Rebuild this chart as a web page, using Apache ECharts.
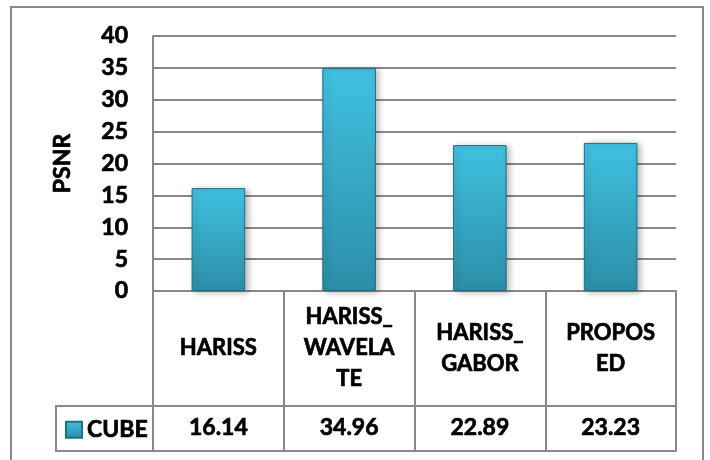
<!DOCTYPE html>
<html>
<head>
<meta charset="utf-8">
<script src="https://cdn.jsdelivr.net/npm/echarts@6/dist/echarts.min.js"></script>
<style>
  html, body { margin: 0; padding: 0; background: #fff; }
  #chart { width: 710px; height: 460px; }
</style>
</head>
<body>
<div id="chart"></div>
<script>
// PSNR per method, shown as columns with a data table underneath
const categories = ['HARISS', 'HARISS_\nWAVELA\nTE', 'HARISS_\nGABOR', 'PROPOS\nED'];
const seriesName = 'CUBE';
const psnrValues = [16.14, 34.96, 22.89, 23.23];
const yTicks = { min: 0, max: 40, step: 5 };
const yAxisTitle = 'PSNR';

const FONT = 'Lato';
const LINE = '#898989';

const chart = echarts.init(document.getElementById('chart'), null, { renderer: 'canvas' });

const barFill = new echarts.graphic.LinearGradient(0, 0, 0, 1, [
  { offset: 0, color: '#40c1e0' },
  { offset: 1, color: '#2c8ea8' }
]);

// heavy black text: bold face plus a thin outline of the same colour
const textBase = {
  fontFamily: FONT, fontWeight: 'bold', color: '#000',
  textBorderColor: '#000', textBorderWidth: 0.7
};

chart.setOption({
  animation: false,
  backgroundColor: '#fff',
  grid: { left: 153, top: 36, right: 34, bottom: 169, containLabel: false },
  legend: {
    data: [seriesName],
    left: 65, top: 418,
    padding: 0,
    icon: 'rect',
    itemWidth: 16, itemHeight: 16,
    itemGap: 6,
    textStyle: Object.assign({ fontSize: 23 }, textBase)
  },
  xAxis: [
    {
      // category header row of the table
      type: 'category',
      data: categories,
      position: 'bottom',
      axisLine: { show: true, lineStyle: { color: LINE, width: 2 } },
      axisTick: { show: true, length: 160, lineStyle: { color: LINE, width: 2 } },
      axisLabel: Object.assign({
        interval: 0, margin: 57, verticalAlign: 'middle', lineHeight: 31, fontSize: 22
      }, textBase)
    },
    {
      // value row of the table
      type: 'category',
      data: psnrValues.map(v => v.toFixed(2)),
      position: 'bottom',
      offset: 115,
      axisLine: { show: true, lineStyle: { color: LINE, width: 2 } },
      axisTick: { show: false },
      axisLabel: Object.assign({
        interval: 0, margin: 22, verticalAlign: 'middle', fontSize: 23
      }, textBase)
    },
    {
      // bottom edge of the table
      type: 'category',
      data: categories,
      position: 'bottom',
      offset: 160,
      axisLine: { show: true, lineStyle: { color: LINE, width: 2 } },
      axisTick: { show: false },
      axisLabel: { show: false }
    }
  ],
  yAxis: {
    type: 'value',
    min: yTicks.min, max: yTicks.max, interval: yTicks.step,
    name: yAxisTitle,
    nameLocation: 'middle',
    nameGap: 79,
    nameRotate: 90,
    nameTextStyle: Object.assign({ fontSize: 23 }, textBase),
    axisLine: { show: true, lineStyle: { color: LINE, width: 2 } },
    axisTick: { show: false },
    axisLabel: Object.assign({ margin: 25, fontSize: 23 }, textBase),
    splitLine: { show: true, lineStyle: { color: LINE, width: 2 } }
  },
  series: [{
    name: seriesName,
    type: 'bar',
    xAxisIndex: 0,
    data: psnrValues,
    barWidth: '41%',
    itemStyle: {
      color: barFill,
      borderColor: '#1f6f85',
      borderWidth: 1,
      shadowColor: 'rgba(0,0,0,0.28)',
      shadowBlur: 6,
      shadowOffsetX: 3,
      shadowOffsetY: 1
    }
  }],
  graphic: [
    {
      // outer chart frame
      type: 'rect',
      shape: { x: 11, y: 7, width: 692, height: 460 },
      style: { fill: 'none', stroke: LINE, lineWidth: 2 },
      silent: true
    },
    {
      // legend cell of the table
      type: 'rect',
      shape: { x: 56, y: 406, width: 97, height: 45 },
      style: { fill: 'none', stroke: LINE, lineWidth: 2 },
      silent: true
    }
  ]
});
</script>
</body>
</html>
